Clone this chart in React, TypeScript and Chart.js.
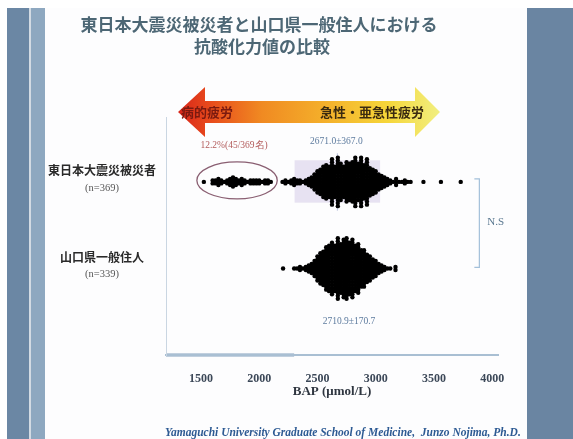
import React, { useEffect, useRef } from 'react';
import { Chart, registerables } from 'chart.js';

Chart.register(...registerables);

// ---- text ----
const TITLE_LINES = ['東日本大震災被災者と山口県一般住人における', '抗酸化力値の比較'];
const ARROW_LEFT_TEXT = '病的疲労';
const ARROW_RIGHT_TEXT = '急性・亜急性疲労';
const GROUP_NAMES = ['東日本大震災被災者', '山口県一般住人'];
const X_TITLE = 'BAP (μmol/L)';
const NS_LABEL = 'N.S';
const FOOTER = 'Yamaguchi University Graduate School of Medicine,  Junzo Nojima, Ph.D.';

// ---- axis ----
const X_MIN = 1200;
const X_MAX = 4050;
const X_TICKS = [1500, 2000, 2500, 3000, 3500, 4000];
const GROUP_LEVELS = [2, 1];
const LOW_CUTOFF = 2200;
const AXIS_HIGHLIGHT_END = 2300;

// ---- BAP values (µmol/L), binned at 25, with number of subjects per bin ----
const DISASTER_VALUES = [
  1525, 1600, 1625, 1650, 1675, 1700, 1725, 1750, 1775, 1800, 1825, 1850, 1875, 1900, 1925,
  1950, 1975, 2000, 2025, 2050, 2075, 2100,
  2200, 2225, 2250, 2275, 2300, 2325, 2350, 2375,
  2400, 2425, 2450, 2475, 2500, 2525, 2550, 2575, 2600, 2625,
  2650, 2675, 2700, 2725, 2750, 2775, 2800, 2825, 2850, 2875,
  2900, 2925, 2950, 2975, 3000, 3025, 3050, 3075, 3100, 3125,
  3150, 3175, 3200, 3225, 3250, 3275, 3300,
  3410, 3560, 3730,
];
const DISASTER_COUNTS = [
  1, 2, 2, 3, 2, 1, 2, 3, 4, 3, 2, 3, 2, 1, 2,
  2, 2, 2, 1, 2, 2, 1,
  1, 2, 1, 2, 3, 2, 2, 1,
  2, 3, 4, 6, 8, 9, 11, 12, 11, 16,
  11, 17, 13, 11, 14, 13, 14, 17, 13, 17,
  12, 16, 10, 9, 8, 6, 5, 4, 3, 2,
  1, 3, 1, 1, 2, 1, 1,
  1, 1, 1,
];
const RESIDENT_VALUES = [
  2205, 2300, 2325, 2350, 2375, 2400,
  2425, 2450, 2475, 2500, 2525, 2550, 2575, 2600, 2625, 2650,
  2675, 2700, 2725, 2750, 2775, 2800, 2825, 2850, 2875, 2900,
  2925, 2950, 2975, 3000, 3025, 3050, 3075, 3100, 3125,
  3170,
];
const RESIDENT_COUNTS = [
  1, 1, 1, 2, 1, 2,
  3, 4, 6, 9, 11, 12, 15, 16, 18, 16,
  21, 17, 20, 21, 18, 20, 16, 17, 13, 13,
  10, 9, 7, 6, 4, 3, 2, 1, 1,
  2,
];
const MEANS = [2671.0, 2710.9];
const SDS = [367.0, 170.7];

// vertical spacing of stacked dots, in y units
const DOT_STEP = 0.035;

const SERIF = '"Liberation Serif", "DejaVu Serif", serif';
const CJK = '"Noto Sans CJK JP", "Noto Sans", sans-serif';

function stackDots(values: number[], counts: number[], level: number) {
  const pts: { x: number; y: number }[] = [];
  values.forEach((v, i) => {
    const c = counts[i];
    for (let k = 0; k < c; k++) {
      pts.push({ x: v, y: level + (k - (c - 1) / 2) * DOT_STEP });
    }
  });
  return pts;
}

const sum = (a: number[]) => a.reduce((s, v) => s + v, 0);
const TOTALS = [sum(DISASTER_COUNTS), sum(RESIDENT_COUNTS)];
const LOW_COUNT = sum(DISASTER_COUNTS.filter((_, i) => DISASTER_VALUES[i] < LOW_CUTOFF));
const LOW_LABEL = `${((LOW_COUNT / TOTALS[0]) * 100).toFixed(1)}%(${LOW_COUNT}/${TOTALS[0]}名)`;
const fmtStat = (i: number) => `${MEANS[i].toFixed(1)}±${SDS[i].toFixed(1)}`;

const slidePlugin = {
  id: 'slideDecor',
  beforeDraw(chart: any) {
    const { ctx, width, height } = chart;
    const xs = chart.scales.x;
    const ys = chart.scales.y;
    ctx.save();
    // slide frame
    ctx.fillStyle = '#ffffff';
    ctx.fillRect(0, 0, width, height);
    ctx.fillStyle = '#fdfdfe';
    ctx.fillRect(45, 8, 482, height - 8);
    ctx.fillStyle = '#6b87a4';
    ctx.fillRect(7, 8, 22, height - 8);
    ctx.fillStyle = '#d3dbe3';
    ctx.fillRect(29, 8, 2, height - 8);
    ctx.fillStyle = '#8ea8c0';
    ctx.fillRect(31, 8, 14, height - 8);
    ctx.fillStyle = '#6a85a2';
    ctx.fillRect(527, 8, width - 527, height - 8);

    // title
    ctx.fillStyle = '#4d6775';
    ctx.font = `bold 17px ${CJK}`;
    ctx.textAlign = 'center';
    ctx.textBaseline = 'middle';
    ctx.fillText(TITLE_LINES[0], 259, 25);
    ctx.fillText(TITLE_LINES[1], 262, 47);

    // fatigue arrow
    const ay = 112;
    const l = 178, lb = 205, rb = 415, r = 440;
    ctx.beginPath();
    ctx.moveTo(l, ay);
    ctx.lineTo(lb, ay - 25);
    ctx.lineTo(lb, ay - 11);
    ctx.lineTo(rb, ay - 11);
    ctx.lineTo(rb, ay - 25);
    ctx.lineTo(r, ay);
    ctx.lineTo(rb, ay + 25);
    ctx.lineTo(rb, ay + 11);
    ctx.lineTo(lb, ay + 11);
    ctx.lineTo(lb, ay + 25);
    ctx.closePath();
    const g = ctx.createLinearGradient(l, 0, r, 0);
    g.addColorStop(0, '#d8261a');
    g.addColorStop(0.12, '#e84a1c');
    g.addColorStop(0.32, '#f08a22');
    g.addColorStop(0.55, '#f4ae2a');
    g.addColorStop(0.8, '#f6d63a');
    g.addColorStop(1, '#f1ef80');
    ctx.fillStyle = g;
    ctx.fill();
    ctx.font = `bold 13px ${CJK}`;
    ctx.textAlign = 'left';
    ctx.fillStyle = '#7a1a10';
    ctx.fillText(ARROW_LEFT_TEXT, 181, ay);
    ctx.textAlign = 'right';
    ctx.fillStyle = '#3a2a10';
    ctx.fillText(ARROW_RIGHT_TEXT, 424, ay);

    // group labels
    ctx.textAlign = 'center';
    GROUP_NAMES.forEach((name, i) => {
      const py = ys.getPixelForValue(GROUP_LEVELS[i]);
      ctx.fillStyle = '#2a2a2a';
      ctx.font = `bold 12px ${CJK}`;
      ctx.fillText(name, 102, py - 11);
      ctx.fillStyle = '#555555';
      ctx.font = `10.5px ${SERIF}`;
      ctx.fillText(`(n=${TOTALS[i]})`, 102, py + 6);
    });

    // footer
    ctx.textAlign = 'left';
    ctx.fillStyle = '#2d5a93';
    ctx.font = `italic bold 11.5px ${SERIF}`;
    ctx.fillText(FOOTER, 165, 433);

    // low-range highlight on the axis
    const base = chart.chartArea.bottom;
    ctx.strokeStyle = '#86a2bd';
    ctx.lineWidth = 3;
    ctx.beginPath();
    ctx.moveTo(chart.chartArea.left, base);
    ctx.lineTo(xs.getPixelForValue(AXIS_HIGHLIGHT_END), base);
    ctx.stroke();
    ctx.restore();
  },
  beforeDatasetsDraw(chart: any) {
    const { ctx } = chart;
    const xs = chart.scales.x;
    const ys = chart.scales.y;
    ctx.save();
    // mean ± SD band for the disaster group
    const x0 = xs.getPixelForValue(MEANS[0] - SDS[0]);
    const x1 = xs.getPixelForValue(MEANS[0] + SDS[0]);
    const y0 = ys.getPixelForValue(GROUP_LEVELS[0] + 0.25);
    const y1 = ys.getPixelForValue(GROUP_LEVELS[0] - 0.24);
    ctx.fillStyle = 'rgba(214, 204, 232, 0.55)';
    ctx.fillRect(x0, y0, x1 - x0, y1 - y0);
    const xm = xs.getPixelForValue(MEANS[0]);
    ctx.strokeStyle = 'rgba(160, 170, 205, 0.7)';
    ctx.lineWidth = 1;
    ctx.beginPath();
    ctx.moveTo(xm, y0 - 7);
    ctx.lineTo(xm, y1 + 8);
    ctx.stroke();
    ctx.restore();
  },
  afterDatasetsDraw(chart: any) {
    const { ctx } = chart;
    const xs = chart.scales.x;
    const ys = chart.scales.y;
    const g1 = ys.getPixelForValue(GROUP_LEVELS[0]);
    const g2 = ys.getPixelForValue(GROUP_LEVELS[1]);
    ctx.save();

    // ring around the low-BAP subjects
    const ex0 = xs.getPixelForValue(1465);
    const ex1 = xs.getPixelForValue(2155);
    ctx.strokeStyle = '#8a5f72';
    ctx.lineWidth = 1.3;
    ctx.beginPath();
    ctx.ellipse((ex0 + ex1) / 2, g1 - 1.5, (ex1 - ex0) / 2, 18.5, 0, 0, Math.PI * 2);
    ctx.stroke();

    ctx.textAlign = 'center';
    ctx.textBaseline = 'middle';
    ctx.font = `9.5px ${SERIF}`;
    ctx.fillStyle = '#b25a5a';
    ctx.fillText(LOW_LABEL, (ex0 + ex1) / 2 - 3, g1 - 36);

    ctx.fillStyle = '#5d7b9e';
    ctx.fillText(fmtStat(0), xs.getPixelForValue(MEANS[0]) - 1, g1 - 40);
    ctx.fillText(fmtStat(1), xs.getPixelForValue(MEANS[1]) + 7, g2 + 53);

    // significance bracket
    const bx = xs.getPixelForValue(3890);
    ctx.strokeStyle = '#a3c0da';
    ctx.lineWidth = 1.2;
    ctx.beginPath();
    ctx.moveTo(bx - 5, g1 - 3);
    ctx.lineTo(bx, g1 - 3);
    ctx.lineTo(bx, g2 - 1);
    ctx.lineTo(bx - 5, g2 - 1);
    ctx.stroke();
    ctx.textAlign = 'left';
    ctx.font = `11px ${SERIF}`;
    ctx.fillStyle = '#5a7890';
    ctx.fillText(NS_LABEL, bx + 8, (g1 + g2) / 2 - 3);
    ctx.restore();
  },
};

export default function App() {
  const ref = useRef<HTMLCanvasElement | null>(null);

  useEffect(() => {
    if (!ref.current) return;
    const chart = new Chart(ref.current, {
      type: 'scatter',
      data: {
        datasets: [
          {
            label: GROUP_NAMES[0],
            data: stackDots(DISASTER_VALUES, DISASTER_COUNTS, GROUP_LEVELS[0]),
            backgroundColor: '#000000',
            borderWidth: 0,
            pointRadius: 2.2,
          },
          {
            label: GROUP_NAMES[1],
            data: stackDots(RESIDENT_VALUES, RESIDENT_COUNTS, GROUP_LEVELS[1]),
            backgroundColor: '#000000',
            borderWidth: 0,
            pointRadius: 2.2,
          },
        ],
      },
      options: {
        animation: false,
        responsive: false,
        devicePixelRatio: 1,
        layout: { padding: { left: 166, right: 75, top: 117, bottom: 0 } },
        plugins: {
          legend: { display: false },
          tooltip: { enabled: false },
        },
        scales: {
          x: {
            type: 'linear',
            min: X_MIN,
            max: X_MAX,
            afterBuildTicks: (axis: any) => {
              axis.ticks = X_TICKS.map((v) => ({ value: v }));
            },
            afterFit: (axis: any) => {
              axis.height = 84;
            },
            grid: { display: false },
            border: { display: true, color: '#a9bfd3', width: 2 },
            ticks: {
              padding: 9,
              color: '#3c4858',
              font: { family: SERIF, size: 12, weight: 'bold' },
              maxRotation: 0,
              callback: (v: any) => String(v),
            },
            title: {
              display: true,
              text: X_TITLE,
              color: '#2f3640',
              font: { family: SERIF, size: 13, weight: 'bold' },
              padding: { top: 4, bottom: 40 },
            },
          },
          y: {
            type: 'linear',
            min: 0,
            max: 2.75,
            afterFit: (axis: any) => {
              axis.width = 0;
            },
            grid: { display: false },
            border: { display: true, color: '#cad6e2', width: 1 },
            ticks: { display: false },
          },
        },
      },
      plugins: [slidePlugin],
    });
    return () => chart.destroy();
  }, []);

  return (
    <div style={{ position: 'absolute', left: 0, top: 0, width: 573, height: 439 }}>
      <canvas ref={ref} width={573} height={439} />
    </div>
  );
}
